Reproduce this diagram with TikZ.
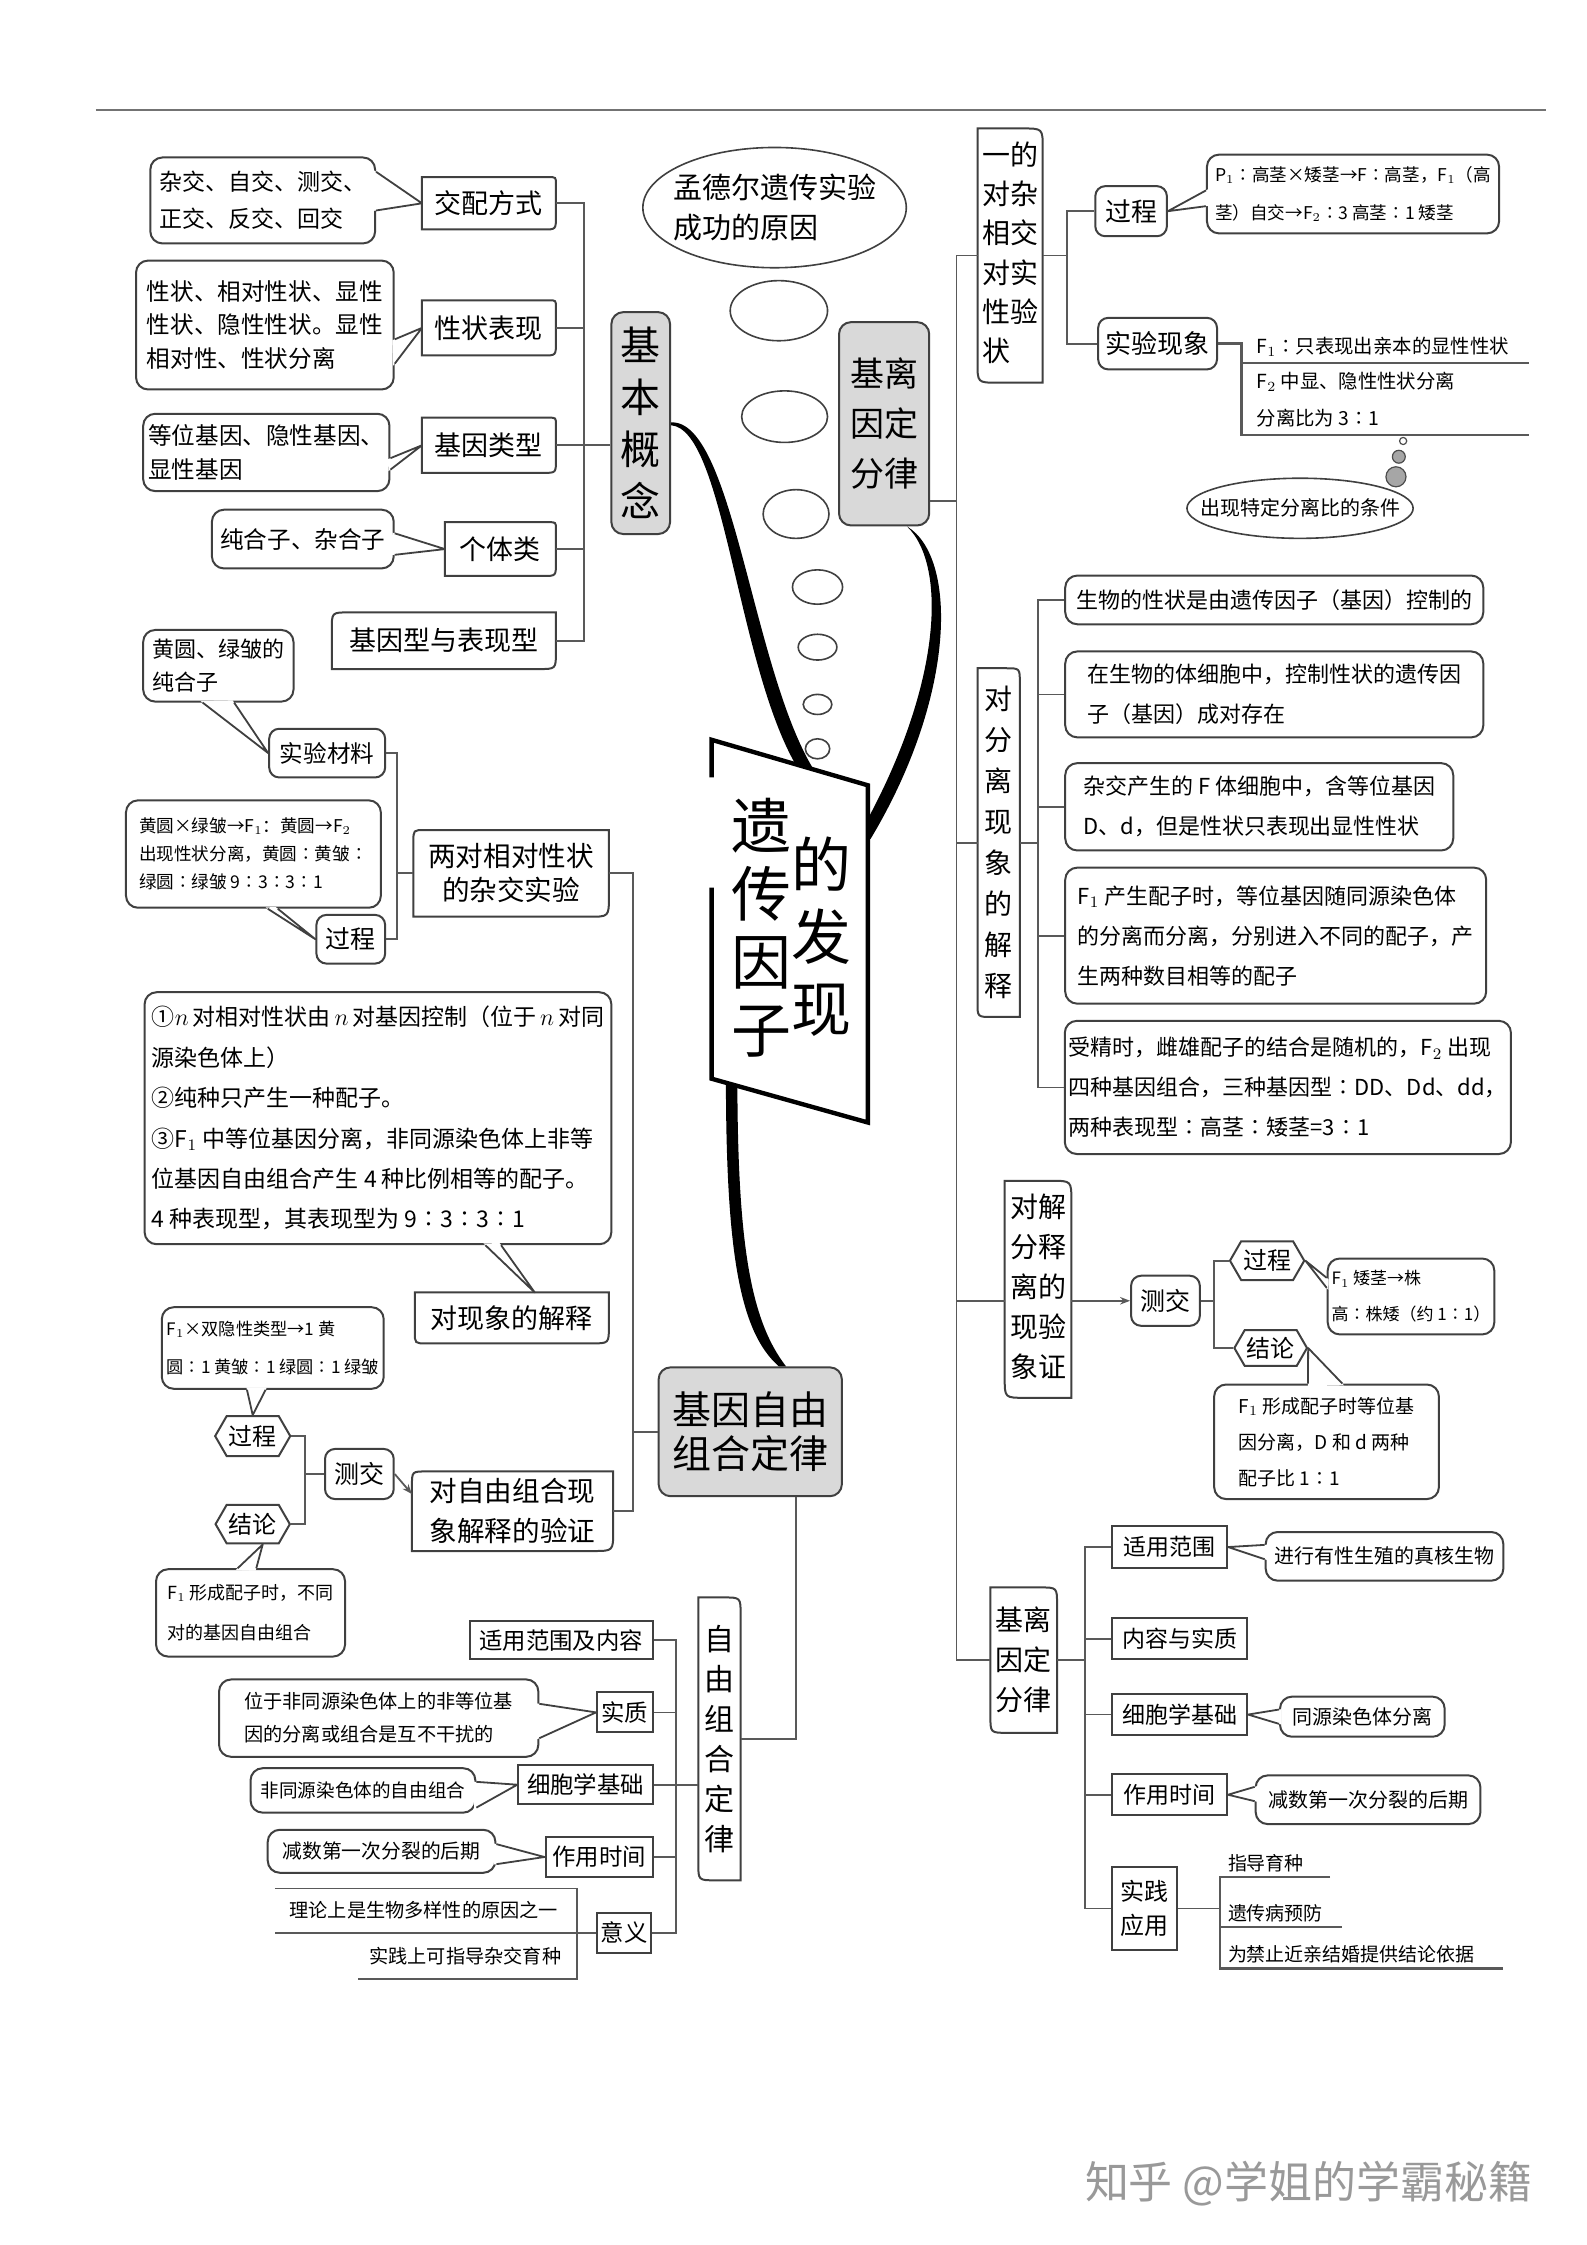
\documentclass[tikz,border=0pt]{standalone}
\usepackage{fontspec}
\setmainfont{Noto Sans CJK SC}
\usetikzlibrary{calc,shapes.geometric,shapes.symbols,arrows.meta}
\newcommand\fs[2]{\fontsize{#1}{#2}\selectfont}
\newcommand\vcol[1]{\begin{tabular}[t]{@{}c@{}}#1\end{tabular}}
\newcommand\mybox[7][]{\node[#1, minimum width={(#5-#3)*0.7162pt}, minimum height={(#6-#4)*0.7162pt}] (#2) at ({(#3+#5)/2},{(#4+#6)/2}) {#7};}
\newcommand\shp[5]{\draw[bline] ($(#1.north west)+(0,#2)$) .. controls (#1.north west) .. ($(#1.north west)+(#2,0)$) -- ($(#1.north east)+(-#3,0)$) .. controls (#1.north east) .. ($(#1.north east)+(0,#3)$) -- ($(#1.south east)+(0,-#4)$) .. controls (#1.south east) .. ($(#1.south east)+(-#4,0)$) -- ($(#1.south west)+(#5,0)$) .. controls (#1.south west) .. ($(#1.south west)+(0,-#5)$) -- cycle;}
\newcommand\wdg[3]{\coordinate (wA) at #1; \coordinate (wB) at #2; \coordinate (wT) at #3;
 \fill[white] ($(wA)!-1.3pt!(wT)$) -- (wT) -- ($(wB)!-1.3pt!(wT)$) -- cycle;
 \draw[wline] (wA) -- (wT) -- (wB);}
\tikzset{
 conn/.style={draw=black!65, line width=0.9pt},
 bline/.style={draw=black!75, line width=1pt},
 wline/.style={draw=black!75, line width=0.9pt, line join=round},
 call/.style={draw=black!75, line width=1pt, rounded corners=6pt, align=left, inner sep=2pt},
 tagn/.style={align=center, inner sep=1.5pt},
 rbox/.style={draw=black!75, line width=1pt, align=center, inner sep=1.5pt},
 rrbox/.style={rbox, rounded corners=5pt},
 gbox/.style={draw=black!75, line width=1pt, fill=black!15, rounded corners=6pt, align=center, inner sep=1pt},
 hexn/.style={draw=black!75, line width=1pt, signal, signal to=west and east, signal pointer angle=120, inner sep=1pt},
 bub/.style={draw=black!75, line width=0.8pt, ellipse, inner sep=0pt},
}
\begin{document}
\begin{tikzpicture}[x=0.7162pt,y=-0.7162pt]
\fill[white] (0,0) rectangle (1108,1568);
\useasboundingbox (0,0) rectangle (1108,1568);
\draw[black!55, line width=0.8pt] (67,77) -- (1080,77);

% ---------- left top ----------
\mybox[call,font=\fs{11.5}{18.5}]{c1}{105}{110}{262}{170}{杂交、自交、测交、\\正交、反交、回交}
\mybox[tagn,font=\fs{13.5}{16}]{jpfs}{295}{124}{388}{160}{交配方式}
\mybox[call,font=\fs{11.8}{16.8}]{c2}{95}{182}{275}{272}{性状、相对性状、显性\\性状、隐性性状。显性\\相对性、性状分离}
\mybox[tagn,font=\fs{13.5}{16}]{xzbx}{295}{210}{388}{248}{性状表现}
\mybox[call,font=\fs{11.8}{17}]{c3}{100}{289}{272}{343}{等位基因、隐性基因、\\显性基因}
\mybox[tagn,font=\fs{13.5}{16}]{jylx}{295}{292}{388}{330}{基因类型}
\mybox[call,font=\fs{11.8}{14}]{c4}{148}{356}{275}{397}{纯合子、杂合子}
\mybox[tagn,font=\fs{13.5}{16}]{gtl}{311}{365}{388}{402}{个体类}
\mybox[tagn,font=\fs{13.5}{16}]{jyx}{232}{428}{388}{467}{基因型与表现型}
\mybox[gbox,font=\fs{20}{26}]{jbgn}{427}{218}{468}{373}{基\\本\\概\\念}

% ---------- left middle ----------
\mybox[call,font=\fs{11}{16.5}]{c5}{100}{440}{205}{490}{黄圆、绿皱的\\纯合子}
\mybox[rrbox,font=\fs{11.8}{14}]{sycl}{188}{509}{269}{543}{实验材料}
\mybox[call,font=\fs{8.8}{14}]{c6}{88}{559}{266}{634}{黄圆×绿皱→F$_1$：黄圆→F$_2$\\出现性状分离，黄圆∶黄皱∶\\绿圆∶绿皱 9∶3∶3∶1}
\mybox[rrbox,font=\fs{12.5}{14}]{gc1}{221}{639}{269}{673}{过程}
\mybox[tagn,font=\fs{13.8}{17}]{ldx}{289}{580}{425}{640}{两对相对性状\\的杂交实验}
\mybox[call,font=\fs{11.5}{20.2}]{c7}{101}{693}{427}{869}{①$n$\,对相对性状由\,$n$\,对基因控制（位于\,$n$\,对同\\源染色体上）\\②纯种只产生一种配子。\\③F$_1$ 中等位基因分离，非同源染色体上非等\\位基因自由组合产生 4 种比例相等的配子。\\4 种表现型，其表现型为 9∶3∶3∶1}
\mybox[tagn,font=\fs{13.5}{16}]{dxxjs}{290}{903}{425}{938}{对现象的解释}
\mybox[call,font=\fs{8.6}{19}]{c8}{113}{913}{268}{970}{F$_1$×双隐性类型→1 黄\\圆∶1 黄皱∶1 绿圆∶1 绿皱}
\mybox[hexn,font=\fs{12}{14}]{gc2}{152}{989}{201}{1017}{过程}
\mybox[hexn,font=\fs{12}{14}]{jl2}{152}{1051}{201}{1078}{结论}
\mybox[rrbox,font=\fs{12.5}{14}]{cj2}{227}{1012}{275}{1047}{测交}
\mybox[tagn,font=\fs{13.8}{20}]{dzy}{288}{1028}{428}{1083}{对自由组合现\\象解释的验证}
\mybox[call,font=\fs{9}{20}]{c9}{109}{1096}{241}{1157}{F$_1$ 形成配子时，不同\\对的基因自由组合}
\mybox[gbox,font=\fs{19.5}{22}]{jyzy}{460}{955}{588}{1045}{基因自由\\组合定律}

% ---------- left bottom ----------
\mybox[tagn,font=\fs{15}{20}]{zyzh}{488}{1116}{517}{1313}{自\\由\\组\\合\\定\\律}
\mybox[rbox,font=\fs{11.7}{14}]{syfwnr}{328}{1132}{456}{1159}{适用范围及内容}
\mybox[rbox,font=\fs{11.7}{14}]{sz}{417}{1182}{456}{1210}{实质}
\mybox[call,font=\fs{9.6}{16.5}]{c10}{153}{1173}{376}{1227}{位于非同源染色体上的非等位基\\因的分离或组合是互不干扰的}
\mybox[rbox,font=\fs{11.7}{14}]{xbxjc}{362}{1233}{456}{1260}{细胞学基础}
\mybox[call,font=\fs{9.3}{12}]{c11}{175}{1235}{332}{1266}{非同源染色体的自由组合}
\mybox[rbox,font=\fs{11.7}{14}]{zysj}{381}{1283}{456}{1311}{作用时间}
\mybox[call,font=\fs{9.9}{12}]{c12}{187}{1278}{346}{1308}{减数第一次分裂的后期}
\mybox[rbox,font=\fs{11.7}{14}]{yy}{417}{1336}{455}{1364}{意义}
\node[font=\fs{9.6}{12}] (yy1) at (296,1334) {理论上是生物多样性的原因之一};
\node[font=\fs{9.6}{12}] (yy2) at (325,1366) {实践上可指导杂交育种};

% ---------- right top ----------
\node[bub, minimum width={184*0.7162pt}, minimum height={84*0.7162pt}] (mdr) at (541,145) {};
\node[font=\fs{14.5}{20}, align=left] (mdrt) at (mdr.center) {孟德尔遗传实验\\成功的原因};
\foreach \nm/\cx/\cy/\w/\h in {e1/544/217/68/42, e2/548/291/60/36, e3/556/359/46/34, e4/571/410/35/24, e5/571/452/27/18, e6/571/492/20/14, e7/571/523/17/14}
  {\node[bub, minimum width={\w*0.7162pt}, minimum height={\h*0.7162pt}] (\nm) at (\cx,\cy) {};}
\mybox[gbox,font=\fs{17}{25}]{jlyd}{586}{225}{649}{367}{基离\\因定\\分律}
\mybox[tagn,font=\fs{14}{19.6}]{yddx}{683}{90}{728}{267}{\vcol{一\\对\\相\\对\\性\\状}\vcol{的\\杂\\交\\实\\验}}
\mybox[rrbox,font=\fs{13}{15}]{gc3}{765}{130}{815}{165}{过程}
\mybox[call,font=\fs{8.8}{18.6}]{c13}{843}{108}{1047}{163}{P$_1$∶高茎×矮茎→F∶高茎，F$_1$（高\\茎）自交→F$_2$∶3 高茎∶1 矮茎}
\mybox[rrbox,font=\fs{13}{15}]{syxx}{767}{222}{850}{258}{实验现象}
\node[font=\fs{9.7}{12}, anchor=south west, inner sep=1pt] (f1t) at (876,251) {F$_1$∶只表现出亲本的显性性状};
\node[font=\fs{9.7}{12}, anchor=west, inner sep=1pt] (f2t) at (876,267) {F$_2$ 中显、隐性性状分离};
\node[font=\fs{9.7}{12}, anchor=west, inner sep=1pt] (f3t) at (876,292) {分离比为 3∶1};
\node[circle, draw=black!70, line width=0.6pt, inner sep=0, minimum size={5*0.7162pt}] (bb1) at (980,308) {};
\node[circle, draw=black!70, fill=black!35, line width=0.6pt, inner sep=0, minimum size={9*0.7162pt}] (bb2) at (977,319) {};
\node[circle, draw=black!70, fill=black!35, line width=0.6pt, inner sep=0, minimum size={14*0.7162pt}] (bb3) at (975,333) {};
\node[bub, minimum width={158*0.7162pt}, minimum height={42*0.7162pt}] (cxtd) at (908,355) {};
\node[font=\fs{10}{12}] (cxtdt) at (cxtd.center) {出现特定分离比的条件};

% ---------- right middle ----------
\mybox[tagn,font=\fs{14}{20.5}]{dfl}{683}{467}{712}{710}{对\\分\\离\\现\\象\\的\\解\\释}
\mybox[call,font=\fs{11}{20}]{b1}{744}{402}{1036}{436}{生物的性状是由遗传因子（基因）控制的}
\mybox[call,font=\fs{11}{20}]{b2}{744}{455}{1036}{515}{在生物的体细胞中，控制性状的遗传因\\子（基因）成对存在}
\mybox[call,font=\fs{11}{20}]{b3}{744}{533}{1015}{594}{杂交产生的 F 体细胞中，含等位基因\\D、d，但是性状只表现出显性性状}
\mybox[call,font=\fs{11}{20}]{b4}{744}{606}{1038}{701}{F$_1$ 产生配子时，等位基因随同源染色体\\的分离而分离，分别进入不同的配子，产\\生两种数目相等的配子}
\mybox[call,font=\fs{11}{20}]{b5}{744}{713}{1055}{806}{受精时，雌雄配子的结合是随机的，F$_2$ 出现\\四种基因组合，三种基因型∶DD、Dd、dd，\\两种表现型∶高茎∶矮茎=3∶1}
\mybox[tagn,font=\fs{14}{20}]{dflyz}{702}{825}{748}{976}{\vcol{对\\分\\离\\现\\象}\vcol{解\\释\\的\\验\\证}}
\mybox[rrbox,font=\fs{12.5}{14}]{cj3}{790}{891}{838}{926}{测交}
\mybox[hexn,font=\fs{12}{14}]{gc4}{861}{867}{909}{894}{过程}
\mybox[hexn,font=\fs{12}{14}]{jl3}{863}{929}{912}{954}{结论}
\mybox[call,font=\fs{8.5}{18}]{c14}{928}{879}{1043}{932}{F$_1$ 矮茎→株\\高∶株矮（约 1∶1）}
\mybox[call,font=\fs{9.5}{18}]{c15}{848}{967}{1005}{1047}{F$_1$ 形成配子时等位基\\因分离，D 和 d 两种\\配子比 1∶1}

% ---------- right bottom ----------
\mybox[tagn,font=\fs{14}{20}]{jlyd2}{692}{1109}{738}{1210}{基离\\因定\\分律}
\mybox[rbox,font=\fs{11.5}{14}]{syfw2}{777}{1066}{857}{1095}{适用范围}
\mybox[call,font=\fs{10}{12}]{c16}{884}{1070}{1050}{1104}{进行有性生殖的真核生物}
\mybox[rbox,font=\fs{11.5}{14}]{nrsz}{777}{1130}{871}{1159}{内容与实质}
\mybox[rbox,font=\fs{11.5}{14}]{xbx2}{777}{1183}{871}{1212}{细胞学基础}
\mybox[call,font=\fs{10}{12}]{c17}{894}{1185}{1009}{1213}{同源染色体分离}
\mybox[rbox,font=\fs{11.5}{14}]{zysj2}{777}{1239}{857}{1268}{作用时间}
\mybox[call,font=\fs{10}{12}]{c18}{877}{1240}{1034}{1274}{减数第一次分裂的后期}
\mybox[rbox,font=\fs{12}{17}]{sjyy}{777}{1304}{822}{1362}{实践\\应用}
\node[font=\fs{9.5}{12}, anchor=south west, inner sep=1pt] (sj1) at (856,1309) {指导育种};
\node[font=\fs{9.5}{12}, anchor=south west, inner sep=1pt] (sj2) at (856,1344) {遗传病预防};
\node[font=\fs{9.5}{12}, anchor=south west, inner sep=1pt] (sj3) at (856,1373) {为禁止近亲结婚提供结论依据};

\node[font=\fs{22}{24}, text=black!40] (wm) at (914,1525) {知乎 @学姐的学霸秘籍};

% ---------- central curves and title ----------
\coordinate (cA) at (564,539);
\coordinate (cB) at (603,586);
\coordinate (cC) at (511,751);
\fill[black] ($(jbgn.east)+(0,-0.5)$) .. controls (512,293) and (525,466) .. ($(cA)+(4,-2)$) -- ($(cA)+(-4,2)$) .. controls (515,473) and (507,300) .. ($(jbgn.east)+(0,1.5)$) -- cycle;
\fill[black] ($(jlyd.south)+(16,0)$) .. controls (669,389) and (668,486) .. ($(cB)+(5,0)$) -- ($(cB)+(-3,-3)$) .. controls (658,481) and (662,395) .. ($(jlyd.south)+(16,0)$) -- cycle;
\fill[black] ($(cC)+(-4,0)$) .. controls (507,872) and (516,930) .. ($(jyzy.north)+(20,0)$) -- ($(jyzy.north)+(25,0)$) .. controls (524,922) and (515,868) .. ($(cC)+(4,0)$) -- cycle;
\fill[white] (497,516.7) -- (606.2,548.5) -- (606.2,784) -- (497,753.4) -- cycle;
\draw[black, line width=2.2pt, line join=miter] (497,543) -- (497,516.7) -- (606.2,548.5) -- (606.2,784) -- (497,753.4) -- (497,620);
\node[font=\fs{30}{34}, align=center, inner sep=0] (zt1) at (532,648) {遗\\传\\因\\子};
\node[font=\fs{30}{36}, align=center, inner sep=0] (zt2) at (574,654) {的\\发\\现};

% ---------- callout pointers ----------
\wdg{($(c1.east)+(0,-20)$)}{($(c1.east)+(0,7)$)}{(jpfs.west)}
\wdg{($(c2.east)+(0,10)$)}{($(c2.east)+(0,27)$)}{(xzbx.west)}
\wdg{($(c3.east)+(0,4)$)}{($(c3.east)+(0,12)$)}{(jylx.west)}
\wdg{($(c4.east)+(0,-4)$)}{($(c4.east)+(0,11)$)}{(gtl.west)}
\wdg{($(c5.south)+(-11,0)$)}{($(c5.south)+(11,0)$)}{(sycl.west)}
\wdg{($(c6.south)+(10,0)$)}{($(c6.south)+(17,0)$)}{(gc1.west)}
\wdg{($(c7.south)+(75,0)$)}{($(c7.south)+(86,0)$)}{($(dxxjs.north)+(16,0)$)}
\wdg{($(c8.south)+(-18,0)$)}{($(c8.south)+(-5,0)$)}{(gc2.north)}
\wdg{($(c9.north)+(-9,0)$)}{($(c9.north)+(4,0)$)}{($(jl2.south)+(7,0)$)}
\wdg{($(c10.east)+(0,-10)$)}{($(c10.east)+(0,14)$)}{(sz.west)}
\wdg{($(c11.east)+(0,-6)$)}{($(c11.east)+(0,12)$)}{(xbxjc.west)}
\wdg{($(c12.east)+(0,-5)$)}{($(c12.east)+(0,9)$)}{(zysj.west)}
\wdg{($(c13.west)+(0,-2.5)$)}{($(c13.west)+(0,8.5)$)}{(gc3.east)}
\wdg{($(c14.west)+(0,-13)$)}{($(c14.west)+(0,-6)$)}{(gc4.east)}
\wdg{($(c15.north)+(-13,0)$)}{($(c15.north)+(11,0)$)}{(jl3.east)}
\wdg{($(c16.west)+(0,-8)$)}{($(c16.west)+(0,2)$)}{(syfw2.east)}
\wdg{($(c17.west)+(0,-5)$)}{($(c17.west)+(0,5)$)}{(xbx2.east)}
\wdg{($(c18.west)+(0,-9)$)}{($(c18.west)+(0,1)$)}{(zysj2.east)}

% ---------- custom outlines ----------
\shp{jpfs}{0}{5}{9}{0}
\shp{xzbx}{0}{5}{9}{0}
\shp{jylx}{0}{5}{9}{0}
\shp{gtl}{0}{5}{9}{0}
\shp{jyx}{12}{0}{12}{0}
\shp{ldx}{8}{0}{14}{0}
\shp{dxxjs}{0}{0}{12}{8}
\shp{dzy}{10}{0}{14}{0}
\shp{zyzh}{0}{12}{0}{12}
\shp{yddx}{0}{14}{0}{14}
\shp{dfl}{0}{10}{0}{10}
\shp{dflyz}{0}{14}{0}{14}
\shp{jlyd2}{0}{12}{0}{12}

% ---------- connectors ----------
\coordinate (busA) at (408,0);
\draw[conn] (jpfs.east) -| (busA |- jyx.east) -- (jyx.east);
\foreach \n in {xzbx,gtl} {\draw[conn] (\n.east) -- (\n.east -| busA);}
\draw[conn] (jbgn.west |- jylx.east) -- (jylx.east);

\coordinate (bus2) at (277,0);
\draw[conn] (sycl.east) -| (bus2 |- gc1.east) -- (gc1.east);
\draw[conn] (ldx.west) -- (ldx.west -| bus2);
\coordinate (bus3) at (442,0);
\draw[conn] (ldx.east) -| (bus3 |- dzy.east) -- (dzy.east);
\draw[conn] (jyzy.west) -- (jyzy.west -| bus3);
\coordinate (bus4) at (213,0);
\draw[conn] (gc2.east) -| (bus4 |- jl2.east) -- (jl2.east);
\draw[conn] (cj2.west) -- (cj2.west -| bus4);
\draw[conn,-{Stealth[length=5pt]}] (cj2.east) -- ($(dzy.west)+(0,-12)$);

\draw[conn] ($(jyzy.south)+(32,0)$) |- (zyzh.east);
\coordinate (bus5) at (472,0);
\draw[conn] (syfwnr.east) -| (bus5 |- yy.east) -- (yy.east);
\foreach \n in {sz,zysj} {\draw[conn] (\n.east) -- (\n.east -| bus5);}
\draw[conn] (zyzh.west |- xbxjc.east) -- (xbxjc.east);
\coordinate (q1) at (192,1319); \coordinate (q1e) at (403,1319);
\coordinate (q2) at (192,1350);
\coordinate (q3) at (250,1382); \coordinate (q3e) at (403,1382);
\draw[conn] (q1) -- (q1e) -- (q3e) -- (q3);
\draw[conn] (yy.west) -- (q2 |- yy.west);

\coordinate (mb) at (668,0);
\draw[conn] (yddx.west) -| (mb |- jlyd2.west) -- (jlyd2.west);
\coordinate (t1) at ($(jlyd.south east)+(0,-18)$);
\draw[conn] (t1) -- (t1 -| mb);
\draw[conn] (dfl.west) -- (dfl.west -| mb);
\draw[conn] (cj3.west -| dflyz.west) -- (cj3.west -| mb);
\draw[conn,-{Stealth[length=5pt]}] (cj3.west -| dflyz.east) -- (cj3.west);

\coordinate (b6) at (745,0);
\draw[conn] (gc3.west) -| (b6 |- syxx.west) -- (syxx.west);
\draw[conn] (yddx.east) -- (yddx.east -| b6);
\coordinate (r1s) at (867,253.6); \coordinate (r1e) at (1068,253.6);
\coordinate (r2s) at (867,304); \coordinate (r2e) at (1068,304);
\draw[conn, line width=1.2pt] (syxx.east) -| (r2s) -- (r2e);
\draw[conn, line width=1.2pt] (r1s) -- (r1e);

\coordinate (b7) at (725,0);
\draw[conn] (b1.west) -| (b7 |- b5.west) -- (b5.west);
\foreach \n in {b2,b3,b4} {\draw[conn] (\n.west) -- (\n.west -| b7);}
\draw[conn] (dfl.east) -- (dfl.east -| b7);
\coordinate (b8) at (848,0);
\draw[conn] (gc4.west) -| (b8 |- jl3.west) -- (jl3.west);
\draw[conn] (cj3.east) -- (cj3.east -| b8);

\coordinate (b9) at (758,0);
\draw[conn] (syfw2.west) -| (b9 |- sjyy.west) -- (sjyy.west);
\foreach \n in {nrsz,xbx2,zysj2} {\draw[conn] (\n.west) -- (\n.west -| b9);}
\draw[conn] (jlyd2.east) -- (jlyd2.east -| b9);
\coordinate (s1) at (852,1311); \coordinate (s1e) at (929,1311);
\coordinate (s2) at (852,1346); \coordinate (s2e) at (937,1346);
\coordinate (s3) at (852,1375); \coordinate (s3e) at (1050,1375);
\draw[conn, line width=1.2pt] (s1e) -- (s1) -- (s3) -- (s3e);
\draw[conn, line width=1.2pt] (s2) -- (s2e);
\draw[conn] (sjyy.east) -- (sjyy.east -| s1);
\end{tikzpicture}
\end{document}
